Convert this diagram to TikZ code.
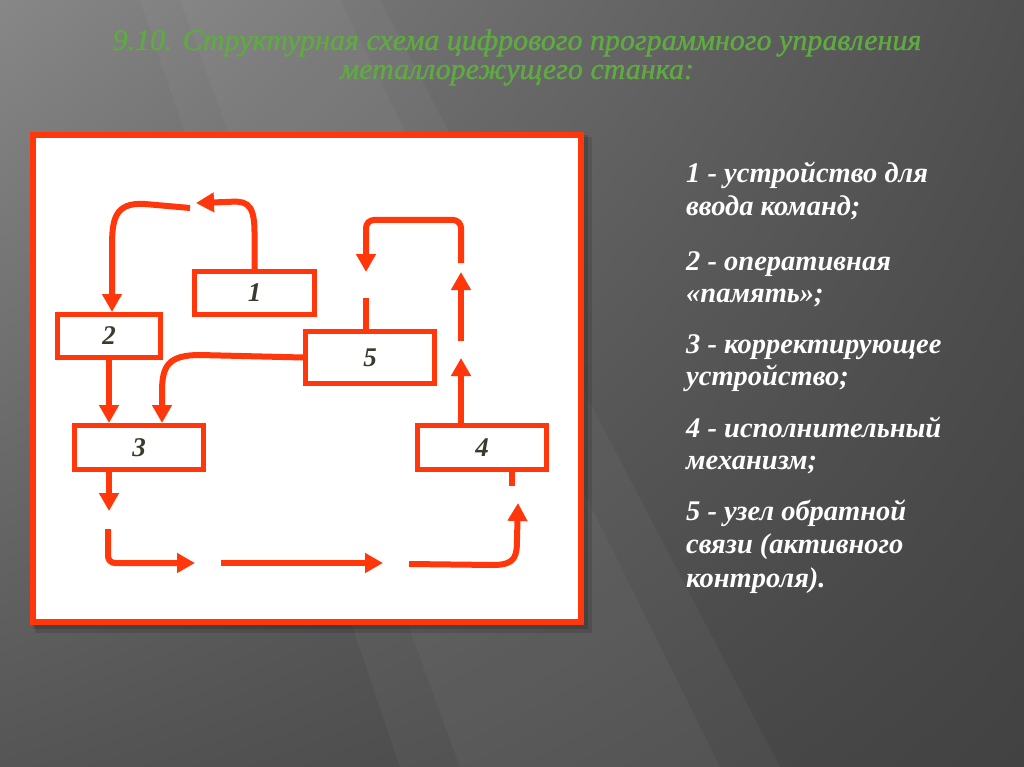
\documentclass[tikz,border=0pt]{standalone}
\usepackage{fontspec}
\setmainfont{Liberation Serif}
\usetikzlibrary{arrows.meta,calc,shadings}
\definecolor{rd}{RGB}{255,55,10}
\definecolor{ttl}{RGB}{95,170,65}
\definecolor{lbl}{RGB}{55,60,45}
\definecolor{bgul}{RGB}{135,135,135}
\definecolor{bgur}{RGB}{80,80,80}
\definecolor{bgll}{RGB}{85,85,85}
\definecolor{bglr}{RGB}{66,66,66}
\begin{document}
\begin{tikzpicture}[x=1pt,y=-1pt,
  box/.style={draw=rd,line width=5pt,fill=white,inner sep=0pt,font=\fontsize{27}{27}\selectfont\bfseries\itshape,text=lbl},
  conn/.style={draw=rd,line width=6pt},
  arr/.style={conn,-{Triangle[width=19pt,length=18pt]}},
  item/.style={anchor=base west,inner sep=0pt,text=white,font=\fontsize{28.5}{32}\selectfont\bfseries\itshape},
  ttlsty/.style={anchor=base,inner sep=0pt,font=\fontsize{30}{30}\selectfont\itshape\addfontfeature{FakeBold=1.2},text=ttl}
]
% background
\shade[upper left=bgul,upper right=bgur,lower left=bgll,lower right=bglr]
  (0,0) rectangle (1024,767);
\fill[white,opacity=0.035] (140,0) -- (380,0) -- (780,767) -- (400,767) -- cycle;
\fill[white,opacity=0.035] (180,0) -- (340,0) -- (720,767) -- (460,767) -- cycle;
\useasboundingbox (0,0) rectangle (1024,767);
% title
\node[ttlsty] (title1) at (517,50) {9.10. Структурная схема цифрового программного управления};
\node[ttlsty] (title2) at (517,79) {металлорежущего станка:};
% frame with shadow
\fill[black,opacity=0.12] (35,137) rectangle (592,633);
\fill[black,opacity=0.15] (33,135) rectangle (588,629);
\draw[rd,line width=6pt,fill=white] (33,135) rectangle (581,622);
% boxes
\node[box,minimum width=120pt,minimum height=43pt] (b1) at (254.5,293) {1};
\node[box,minimum width=103pt,minimum height=43pt] (b2) at (109,336) {2};
\node[box,minimum width=129pt,minimum height=44pt] (b3) at (139,447.5) {3};
\node[box,minimum width=129pt,minimum height=44pt] (b4) at (482,447.5) {4};
\node[box,minimum width=129pt,minimum height=52pt] (b5) at (370,357.5) {5};
% helper coordinates
\coordinate (x112) at (112,0);
\coordinate (x162) at (162,0);
\coordinate (x461) at (461,0);
\coordinate (x512) at (512,0);
\coordinate (x366) at (366,0);
\coordinate (p1) at (196,203);
\coordinate (p2) at (190,208);
\coordinate (q1) at (109,511);
\coordinate (q2) at (108,529);
\coordinate (q3) at (195,563);
\coordinate (q4) at (221,563);
\coordinate (q5) at (383,563);
\coordinate (q6) at (409,564);
\coordinate (q7) at (518,503);
\coordinate (r1) at (512,486);
\coordinate (r2) at (461,358);
\coordinate (r3) at (461,341);
\coordinate (r4) at (461,272);
\coordinate (r5) at (461,263);
\coordinate (r6) at (366,272);
\coordinate (r7) at (366,298);
% connectors
\draw[arr] (b1.north) -- (254.5,232) .. controls (254.5,200) and (244,201) .. (226,202) -- (p1);
\draw[arr] (p2) -- (145,204) .. controls (114,202) and (112,220) .. (112,248) -- (x112 |- b2.north);
\draw[arr] (b2.south) -- (b2.south |- b3.north);
\draw[arr] (b5.west) -- (200,355) .. controls (168,355) and (162,366) .. (162,392) -- (x162 |- b3.north);
\draw[arr] (b2.south |- b3.south) -- (q1);
\draw[arr,rounded corners=7pt] (q2) -- (q2 |- q3) -- (q3);
\draw[arr] (q4) -- (q5);
\draw[arr] (q6) -- (493,565) .. controls (516,565) and (517,556) .. (517,538) -- (q7);
\draw[conn] (x512 |- b4.south) -- (r1);
\draw[arr] (x461 |- b4.north) -- (r2);
\draw[arr] (r3) -- (r4);
\draw[arr,rounded corners=8pt] (r5) -- (461,220) -- (366,220) -- (r6);
\draw[conn] (x366 |- b5.north) -- (r7);
% legend
\node[item] (l1a) at (686,183) {1 - устройство для};
\node[item] (l1b) at (686,215) {ввода команд;};
\node[item] (l2a) at (686,270) {2 - оперативная};
\node[item] (l2b) at (686,302) {«память»;};
\node[item] (l3a) at (686,353) {3 - корректирующее};
\node[item] (l3b) at (686,385) {устройство;};
\node[item] (l4a) at (686,437) {4 - исполнительный};
\node[item] (l4b) at (686,469) {механизм;};
\node[item] (l5a) at (686,520) {5 - узел обратной};
\node[item] (l5b) at (686,553) {связи (активного};
\node[item] (l5c) at (686,587) {контроля).};
\end{tikzpicture}
\end{document}
